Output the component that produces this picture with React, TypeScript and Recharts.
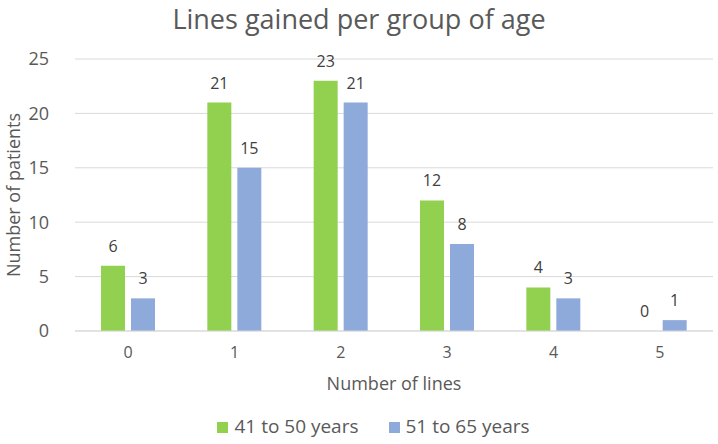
import { BarChart, Bar, XAxis, YAxis, CartesianGrid, Legend, LabelList } from "recharts";

const categories = ["0", "1", "2", "3", "4", "5"];
const group41to50 = [6, 21, 23, 12, 4, 0];
const group51to65 = [3, 15, 21, 8, 3, 1];
const yTicks = [0, 5, 10, 15, 20, 25];

const data = categories.map((name, i) => ({
  name,
  a: group41to50[i],
  b: group51to65[i],
}));

const FONT = "'Open Sans', 'Noto Sans', sans-serif";
const TEXT = "#595959";

// draws the value above the bar, also for bars of zero height
const ValueLabel = (props: any) => {
  const { x, y, width, value } = props;
  if (x == null || y == null) return null;
  return (
    <text
      x={Number(x) + Number(width) / 2}
      y={Number(y) - 14}
      textAnchor="middle"
      fill="#404040"
      fontSize={16}
      fontFamily={FONT}
    >
      {value}
    </text>
  );
};

// zero bars get a hair of height so their "0" label still shows
const tinyForZero = (v: any) => (Number(v) === 0 ? 0.01 : 0);

const App = () => {
  return (
    <div style={{ position: "absolute", left: 0, top: 0, width: 718, height: 444, background: "#fff", fontFamily: FONT }}>
      <div
        style={{
          position: "absolute",
          top: 0,
          left: 0,
          width: 718,
          textAlign: "center",
          fontSize: 27,
          color: TEXT,
        }}
      >
        Lines gained per group of age
      </div>
      <BarChart
        width={718}
        height={444}
        data={data}
        margin={{ top: 59, right: 5, left: 0, bottom: 0 }}
        barSize={24}
        barGap={6}
      >
        <CartesianGrid vertical={false} stroke="#d9d9d9" />
        <XAxis
          dataKey="name"
          axisLine={{ stroke: "#d9d9d9" }}
          tickLine={false}
          tick={{ fill: TEXT, fontSize: 16, fontFamily: FONT }}
          tickMargin={10}
          height={71}
          label={{ value: "Number of lines", position: "insideBottom", offset: 12, fill: TEXT, fontSize: 18, fontFamily: FONT }}
        />
        <YAxis
          domain={[0, 25]}
          ticks={yTicks}
          width={75}
          axisLine={false}
          tickLine={false}
          tick={{ fill: TEXT, fontSize: 18, fontFamily: FONT }}
          tickMargin={20}
          label={{ value: "Number of patients", angle: -90, position: "insideLeft", offset: 14, fill: TEXT, fontSize: 18, fontFamily: FONT, style: { textAnchor: "middle" } }}
        />
        <Legend
          verticalAlign="bottom"
          iconType="square"
          iconSize={11}
          wrapperStyle={{ fontSize: 19, fontFamily: FONT, height: 42, paddingTop: 14, boxSizing: "border-box", lineHeight: "20px", marginLeft: 22 }}
          formatter={(v, _e, i) => (
            <span style={{ color: TEXT, marginLeft: 2, marginRight: i === 0 ? 20 : 0 }}>{v}</span>
          )}
        />
        <Bar dataKey="a" name="41 to 50 years" fill="#92d050" minPointSize={tinyForZero} isAnimationActive={false}>
          <LabelList dataKey="a" content={ValueLabel} />
        </Bar>
        <Bar dataKey="b" name="51 to 65 years" fill="#8eaadb" minPointSize={tinyForZero} isAnimationActive={false}>
          <LabelList dataKey="b" content={ValueLabel} />
        </Bar>
      </BarChart>
    </div>
  );
};

export default App;
